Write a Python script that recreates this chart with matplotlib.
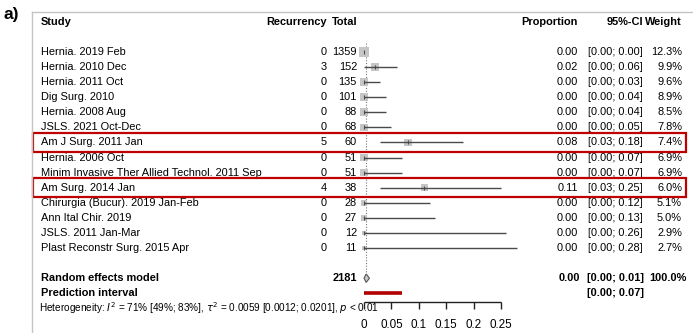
"""Forest plot of recurrence proportions with random effects summary."""

import matplotlib

matplotlib.use("Agg")
import matplotlib.pyplot as plt
import matplotlib.transforms as mtransforms
from matplotlib.lines import Line2D
from matplotlib.patches import Polygon, Rectangle
import numpy as np

plt.rcParams["font.family"] = ["Liberation Sans", "DejaVu Sans"]

studies = [
    "Hernia. 2019 Feb",
    "Hernia. 2010 Dec",
    "Hernia. 2011 Oct",
    "Dig Surg. 2010",
    "Hernia. 2008 Aug",
    "JSLS. 2021 Oct-Dec",
    "Am J Surg. 2011 Jan",
    "Hernia. 2006 Oct",
    "Minim Invasive Ther Allied Technol. 2011 Sep",
    "Am Surg. 2014 Jan",
    "Chirurgia (Bucur). 2019 Jan-Feb",
    "Ann Ital Chir. 2019",
    "JSLS. 2011 Jan-Mar",
    "Plast Reconstr Surg. 2015 Apr",
]
events = [0, 3, 0, 0, 0, 0, 5, 0, 0, 4, 0, 0, 0, 0]
totals = [1359, 152, 135, 101, 88, 68, 60, 51, 51, 38, 28, 27, 12, 11]
prop = [0.00, 0.02, 0.00, 0.00, 0.00, 0.00, 0.08, 0.00, 0.00, 0.11, 0.00, 0.00, 0.00, 0.00]
ci_lo = [0.00, 0.00, 0.00, 0.00, 0.00, 0.00, 0.03, 0.00, 0.00, 0.03, 0.00, 0.00, 0.00, 0.00]
ci_hi = [0.00, 0.06, 0.03, 0.04, 0.04, 0.05, 0.18, 0.07, 0.07, 0.25, 0.12, 0.13, 0.26, 0.28]
weight = [12.3, 9.9, 9.6, 8.9, 8.5, 7.8, 7.4, 6.9, 6.9, 6.0, 5.1, 5.0, 2.9, 2.7]
highlighted = ["Am J Surg. 2011 Jan", "Am Surg. 2014 Jan"]

pooled_total = 2181
pooled_est, pooled_lo, pooled_hi = 0.004, 0.00, 0.01
pred_lo, pred_hi = 0.00, 0.07
xticks = [0, 0.05, 0.1, 0.15, 0.2, 0.25]
xtick_labels = ["0", "0.05", "0.1", "0.15", "0.2", "0.25"]
het_text = (r"Heterogeneity: $I^2$ = 71% [49%; 83%], $\tau^2$ = 0.0059 "
            r"[0.0012; 0.0201], $p$ < 0.01")

W, H = 693, 333
X0, SCALE = 364, 548          # pixel of proportion 0, pixels per unit
ROW0, ROW_H = 52, 15.08        # pixel of first study row, row spacing

fig = plt.figure(figsize=(W / 100, H / 100), dpi=100)
ax = fig.add_axes([0, 0, 1, 1])
ax.set_xlim(-X0 / SCALE, (W - X0) / SCALE)
ax.set_ylim((H - ROW0) / ROW_H, -ROW0 / ROW_H)
ax.axis("off")

tx = mtransforms.blended_transform_factory(fig.transFigure, ax.transData)
FS = 7.9


def put(xpx, row, s, ha="right", bold=False, size=FS):
    ax.text(xpx / W, row, s, transform=tx, ha=ha, va="center", fontsize=size,
            fontweight="bold" if bold else "normal", color="black")


# frame
fig.add_artist(Line2D([32 / W, 1], [1 - 12 / H] * 2, color="#c4c4c4", lw=1))
fig.add_artist(Line2D([32 / W] * 2, [0, 1 - 12 / H], color="#c4c4c4", lw=1))
fig.text(3 / W, 1 - 14 / H, "a)", fontsize=12.5, fontweight="bold", va="center")

# header
put(41, -2, "Study", ha="left", bold=True)
put(327, -2, "Recurrency", bold=True)
put(357, -2, "Total", bold=True)
put(578, -2, "Proportion", bold=True)
put(643, -2, "95%-CI", bold=True)
put(682, -2, "Weight", bold=True)

rows = np.arange(len(studies))
for i in rows:
    put(41, i, studies[i], ha="left")
    put(327, i, str(events[i]))
    put(357, i, str(totals[i]))
    put(578, i, f"{prop[i]:.2f}")
    put(643, i, f"[{ci_lo[i]:.2f}; {ci_hi[i]:.2f}]")
    put(682, i, f"{weight[i]:.1f}%")

# study squares, CI lines and point ticks
side_px = 2.7 * np.sqrt(weight)
ax.scatter(prop, rows, s=(side_px * 0.72) ** 2, marker="s", color="#c6c6c6",
           linewidths=0, zorder=2)
ax.hlines(rows, ci_lo, ci_hi, color="#4a4a4a", lw=1.0, zorder=3)
ax.scatter(prop, rows, s=9, marker="|", color="#4a4a4a", linewidths=0.8, zorder=4)

# random effects summary
r_re, r_pi, r_het = len(studies) + 1, len(studies) + 2, len(studies) + 3
ax.vlines(pooled_est, -0.6, r_re, color="#777777", lw=0.8, linestyles=(0, (1, 1.5)),
          zorder=1)
ax.add_patch(Polygon([(pooled_lo, r_re), (pooled_est, r_re - 0.28),
                      (pooled_hi, r_re), (pooled_est, r_re + 0.28)],
                     closed=True, facecolor="#c8c8c8", edgecolor="#555555",
                     lw=0.8, zorder=3))
ax.hlines(r_pi, pred_lo, pred_hi, color="#b00000", lw=2.6, zorder=3)

put(41, r_re, "Random effects model", ha="left", bold=True)
put(357, r_re, str(pooled_total), bold=True)
put(580, r_re, f"{round(pooled_est, 2):.2f}", bold=True)
put(644, r_re, f"[{pooled_lo:.2f}; {pooled_hi:.2f}]", bold=True)
put(687, r_re, "100.0%", bold=True)
put(41, r_pi, "Prediction interval", ha="left", bold=True)
put(644, r_pi, f"[{pred_lo:.2f}; {pred_hi:.2f}]", bold=True)
put(39, r_het, het_text, ha="left", size=7.2)

# highlight boxes
for name in highlighted:
    r = studies.index(name)
    ax.add_patch(Rectangle((33 / W, r - 0.62), (686 - 33) / W, 1.24, transform=tx,
                           fill=False, edgecolor="#c00000", lw=1.6, clip_on=False,
                           zorder=5))

# x axis: baseline with ticks hanging below, labels underneath
r_axis = (302 - ROW0) / ROW_H
ax.hlines(r_axis, xticks[0], xticks[-1], color="#222222", lw=1.0, zorder=4)
ax.vlines(xticks, r_axis, r_axis + 0.45, color="#222222", lw=1.0, zorder=4)
for xt, lab in zip(xticks, xtick_labels):
    ax.text(xt, r_axis + 1.5, lab, ha="center", va="center", fontsize=8.4)

fig.savefig("out.png", dpi=100)
plt.close(fig)
